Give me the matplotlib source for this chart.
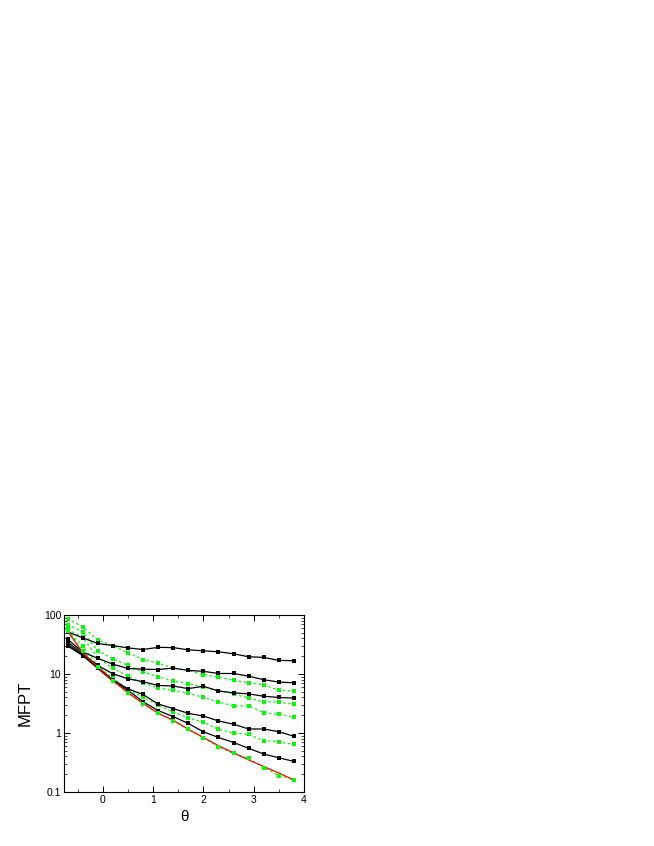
import matplotlib
matplotlib.use("Agg")
import matplotlib.pyplot as plt
from matplotlib.ticker import LogLocator, MultipleLocator, FixedLocator, NullFormatter

plt.rcParams['font.family'] = ['Liberation Sans', 'DejaVu Sans']

theta = [-0.7, -0.4, -0.1, 0.2, 0.5, 0.8, 1.1, 1.4, 1.7, 2.0, 2.3, 2.6, 2.9, 3.2, 3.5, 3.8]

black1 = [52, 41, 33, 30.3, 27.7, 26, 28.3, 28, 25.7, 24.7, 23.8, 22, 19.6, 19.1, 17, 16.8]
black2 = [39, 23.5, 18.5, 14.7, 12.4, 12.1, 11.9, 12.6, 11.5, 11.1, 10.2, 10.2, 9.2, 8.0, 7.3, 7.1]
black3 = [35, 22, 14, 10.1, 8.3, 7.4, 6.4, 6.25, 5.65, 6.2, 5.15, 4.8, 4.6, 4.2, 4.0, 3.9]
black4 = [32, 21, 13, 8.0, 5.6, 4.5, 3.1, 2.6, 2.15, 1.94, 1.6, 1.41, 1.17, 1.17, 1.05, 0.88]
black5 = [30, 20.5, 12.5, 7.6, 5.3, 3.4, 2.4, 1.9, 1.45, 1.05, 0.84, 0.69, 0.55, 0.44, 0.38, 0.33]

green1 = [87, 63, 38, 30, 23, 17.6, 15.3, 12.6, 11.5, 9.8, 8.9, 7.8, 7.1, 6.6, 5.3, 5.15]
green2 = [69, 52, 25, 18, 14, 10.8, 9.0, 7.6, 6.9, 6.0, 5.2, 4.6, 3.9, 3.4, 3.3, 3.12]
green3 = [57, 42, 19, 12.5, 9.2, 7.0, 5.8, 5.3, 4.7, 4.0, 3.36, 2.88, 2.88, 2.22, 2.06, 1.87]
green4 = [54, 30, 14, 8.5, 5.6, 4.0, 2.95, 2.3, 1.8, 1.52, 1.15, 1.0, 0.95, 0.74, 0.71, 0.64]
green5 = [54, 25, 13, 7.5, 4.8, 3.1, 2.2, 1.6, 1.15, 0.83, 0.58, 0.45, 0.37, 0.26, 0.19, 0.16]

red = [54, 23, 13, 7.8, 4.8, 3.2, 2.15, 1.65, 1.16, 0.84, 0.61, 0.46, 0.35, 0.27, 0.21, 0.16]

x_ticks = [0, 1, 2, 3, 4]
y_ticks = [0.1, 1, 10, 100]
y_labels = ["0.1", "1", "10", "100"]

fig = plt.figure(figsize=(6.54, 8.46), dpi=100)
ax = fig.add_axes([64/654, 1-792/846, 240/654, 177/846])

for g in [green1, green2, green3, green4, green5]:
    ax.plot(theta, g, color='#00ff00', lw=0.9, linestyle=(0, (2, 2)),
            marker='s', markersize=2.6, markeredgewidth=0, zorder=2)
for b in [black1, black2, black3, black4, black5]:
    ax.plot(theta, b, color='black', lw=0.9, marker='s', markersize=2.2,
            markeredgewidth=0, zorder=3)
ax.plot(theta, red, color='#ff0000', lw=0.9, zorder=4)
ax.plot(theta, green5, color='#00ff00', lw=0, marker='s', markersize=2.6,
        markeredgewidth=0, zorder=5)

ax.set_yscale('log')
ax.set_xlim(-0.77, 4.0)
ax.set_ylim(0.1, 100)
ax.xaxis.set_major_locator(FixedLocator(x_ticks))
ax.xaxis.set_minor_locator(MultipleLocator(0.5))
ax.set_xticklabels([str(t) for t in x_ticks])
ax.yaxis.set_major_locator(FixedLocator(y_ticks))
ax.set_yticklabels(y_labels)
ax.yaxis.set_minor_locator(LogLocator(base=10, subs=range(2, 10)))
ax.yaxis.set_minor_formatter(NullFormatter())
ax.tick_params(which='both', direction='in', top=True, right=True, labelsize=7.5, pad=2)
ax.tick_params(which='major', length=4, width=0.7)
ax.tick_params(which='minor', length=2, width=0.5)
for s in ax.spines.values():
    s.set_linewidth(0.8)

ax.set_ylabel('MFPT', fontsize=12, labelpad=8)
ax.set_xlabel('θ', fontsize=11, labelpad=4)

fig.savefig('out.png', dpi=100)
